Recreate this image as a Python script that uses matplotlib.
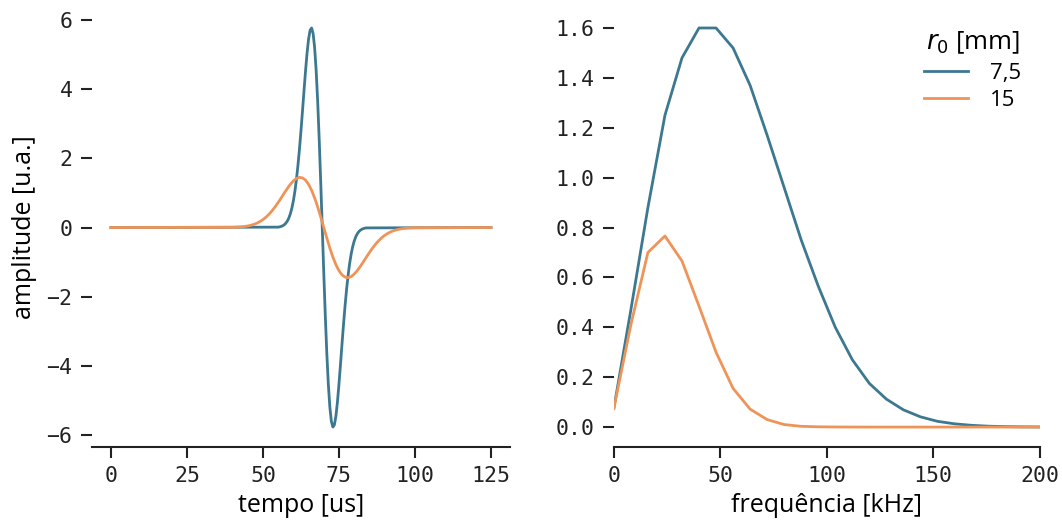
import numpy as np
import matplotlib
matplotlib.use("Agg")
import matplotlib.pyplot as plt

# ---------------- data ----------------
series_labels = ["7,5", "15"]
legend_title = "$r_0$ [mm]"
colors = ["#3c7890", "#ef9458"]

# time signal, r0 = 7.5 mm (0.5 us sampling in pulse region, flat elsewhere)
t_blue = np.concatenate([[0.0], np.arange(55.0, 84.01, 0.5), [125.0]])
p_blue_core = [0.011, 0.019, 0.032, 0.051, 0.080, 0.123, 0.185, 0.273, 0.394, 0.558,
               0.772, 1.045, 1.383, 1.790, 2.263, 2.794, 3.365, 3.954, 4.524, 5.037,
               5.444, 5.701, 5.766, 5.602, 5.191, 4.530, 3.635, 2.542, 1.309, 0.0,
               -1.309, -2.542, -3.635, -4.530, -5.191, -5.602, -5.766, -5.701, -5.444, -5.037,
               -4.524, -3.954, -3.365, -2.794, -2.263, -1.790, -1.383, -1.045, -0.772, -0.558,
               -0.394, -0.273, -0.185, -0.123, -0.080, -0.051, -0.032, -0.019, -0.011]
p_blue = np.concatenate([[0.0], p_blue_core, [0.0]])

# time signal, r0 = 15 mm (1 us sampling in pulse region)
t_orange = np.concatenate([[0.0], np.arange(40.0, 100.01, 1.0), [125.0]])
p_orange_core = [0.006, 0.009, 0.014, 0.021, 0.031, 0.045, 0.065, 0.091, 0.126, 0.172,
                 0.229, 0.300, 0.385, 0.485, 0.598, 0.724, 0.857, 0.994, 1.126, 1.247,
                 1.347, 1.418, 1.449, 1.434, 1.368, 1.248, 1.075, 0.854, 0.593, 0.304,
                 0.0,
                 -0.304, -0.593, -0.854, -1.075, -1.248, -1.368, -1.434, -1.449, -1.418, -1.347,
                 -1.247, -1.126, -0.994, -0.857, -0.724, -0.598, -0.485, -0.385, -0.300, -0.229,
                 -0.172, -0.126, -0.091, -0.065, -0.045, -0.031, -0.021, -0.014, -0.009, -0.006]
p_orange = np.concatenate([[0.0], p_orange_core, [0.0]])

# spectra (8 kHz spacing)
freq = [0, 8, 16, 24, 32, 40, 48, 56, 64, 72, 80, 88, 96, 104, 112, 120, 128,
        136, 144, 152, 160, 168, 176, 184, 192, 200]
spec_blue = [0.075, 0.47, 0.88, 1.25, 1.48, 1.60, 1.60, 1.52, 1.37, 1.17, 0.96,
             0.75, 0.565, 0.40, 0.27, 0.175, 0.112, 0.069, 0.041, 0.023, 0.013,
             0.007, 0.0035, 0.0017, 0.0008, 0.0004]
spec_orange = [0.075, 0.41, 0.70, 0.766, 0.666, 0.485, 0.30, 0.155, 0.072, 0.030,
               0.010, 0.003, 0.001, 0.0003, 0.0001, 0, 0, 0, 0, 0, 0, 0, 0, 0, 0, 0]

xticks_t = [0, 25, 50, 75, 100, 125]
yticks_t = [-6, -4, -2, 0, 2, 4, 6]
xticks_f = [0, 50, 100, 150, 200]
yticks_f = [0.0, 0.2, 0.4, 0.6, 0.8, 1.0, 1.2, 1.4, 1.6]

# ---------------- style ----------------
label_font = "Open Sans"
tick_font = "DejaVu Sans Mono"
lw = 2.0

fig = plt.figure(figsize=(10.62, 5.21), dpi=100)
ax1 = fig.add_axes([0.0866, 0.142, 0.3936, 0.8426])
ax2 = fig.add_axes([0.578, 0.142, 0.401, 0.8426])

ax1.plot(t_blue, p_blue, color=colors[0], lw=lw)
ax1.plot(t_orange, p_orange, color=colors[1], lw=lw)

ax2.plot(freq, spec_blue, color=colors[0], lw=lw, label=series_labels[0])
ax2.plot(freq, spec_orange, color=colors[1], lw=lw, label=series_labels[1])
ax2.set_xlim(0, 200)

ax1.set_xticks(xticks_t)
ax1.set_yticks(yticks_t)
ax2.set_xticks(xticks_f)
ax2.set_yticks(yticks_f)
ax2.set_yticklabels([f"{v:.1f}" for v in yticks_f])
ax1.set_yticklabels([str(v).replace("-", "\u2212") for v in yticks_t])

ax1.set_xlabel("tempo [us]", fontfamily=label_font, fontsize=18, labelpad=5)
ax1.set_ylabel("amplitude [u.a.]", fontfamily=label_font, fontsize=18, labelpad=7)
ax2.set_xlabel("frequência [kHz]", fontfamily=label_font, fontsize=18, labelpad=5)

for ax in (ax1, ax2):
    for s in ("left", "top", "right"):
        ax.spines[s].set_visible(False)
    ax.spines["bottom"].set_linewidth(1.5)
    ax.spines["bottom"].set_color("#222222")
    ax.tick_params(axis="both", direction="out", length=8, width=1.5,
                   color="#222222", labelsize=15.5, pad=6)
    for lab in ax.get_xticklabels() + ax.get_yticklabels():
        lab.set_fontfamily(tick_font)
        lab.set_color("#222222")

leg = ax2.legend(title=legend_title, frameon=False, loc="upper right",
                 bbox_to_anchor=(1.004, 0.997),
                 prop={"family": label_font, "size": 16},
                 title_fontproperties={"family": label_font, "size": 18.5},
                 handlelength=2.0, handletextpad=1.0, labelspacing=0.3)

fig.savefig("out.png", dpi=100)
